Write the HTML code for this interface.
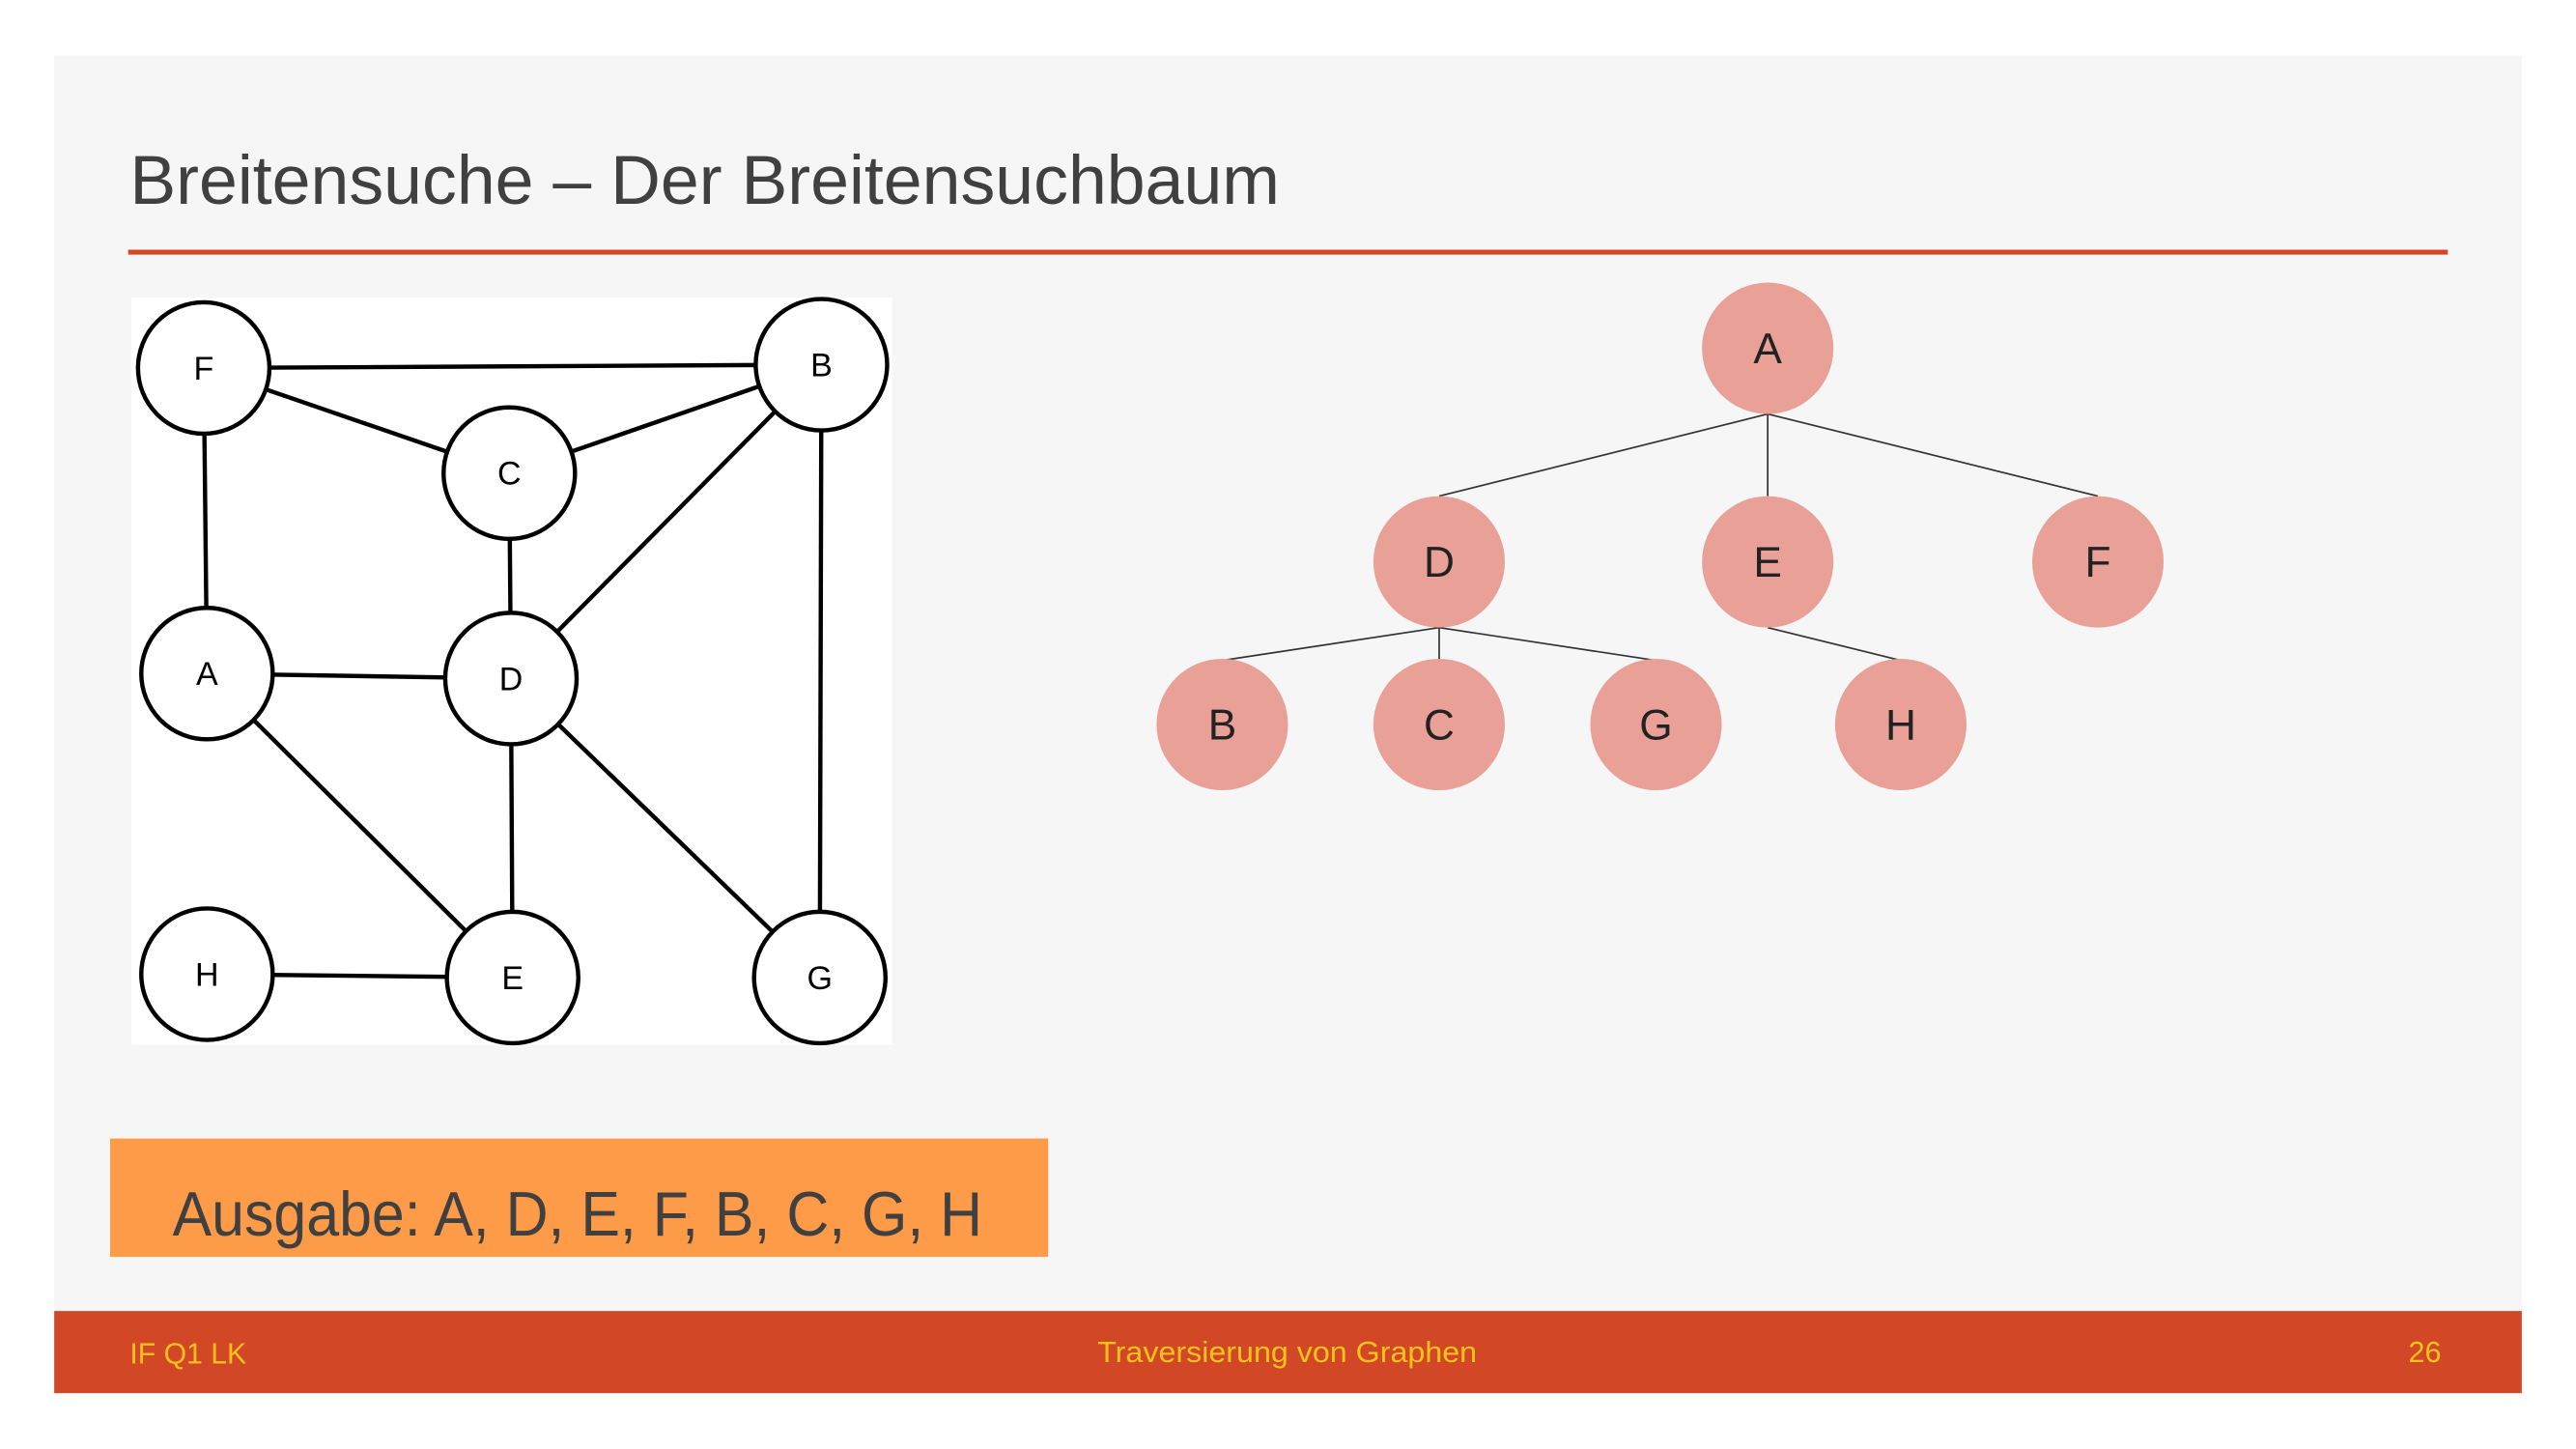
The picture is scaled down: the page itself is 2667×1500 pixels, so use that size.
<!DOCTYPE html>
<html><head><meta charset="utf-8"><style>html,body{margin:0;padding:0;background:#fff}svg{display:block}</style></head>
<body>
<svg width="2667" height="1500" viewBox="0 0 1568 882" preserveAspectRatio="none" xmlns="http://www.w3.org/2000/svg" font-family="Liberation Sans, sans-serif">
<rect x="0" y="0" width="1568" height="882" fill="#fff"/>
<rect x="33" y="34" width="1502" height="814" fill="#f6f6f6"/>
<text x="79" y="124" font-size="42" fill="#404040" textLength="700" lengthAdjust="spacingAndGlyphs">Breitensuche – Der Breitensuchbaum</text>
<rect x="78" y="152" width="1412" height="3" fill="#d24726"/>
<rect x="80" y="181" width="463" height="455" fill="#fff"/>
<g stroke="#000" stroke-width="2.6" fill="none">
<line x1="124" y1="224" x2="500" y2="222"/>
<line x1="124" y1="224" x2="310" y2="288"/>
<line x1="310" y1="288" x2="500" y2="222"/>
<line x1="124" y1="224" x2="126" y2="410"/>
<line x1="310" y1="288" x2="311" y2="413"/>
<line x1="311" y1="413" x2="500" y2="222"/>
<line x1="126" y1="410" x2="311" y2="413"/>
<line x1="126" y1="410" x2="312" y2="595"/>
<line x1="311" y1="413" x2="312" y2="595"/>
<line x1="311" y1="413" x2="499" y2="595"/>
<line x1="500" y1="222" x2="499" y2="595"/>
<line x1="126" y1="593" x2="312" y2="595"/>
</g>
<g stroke="#000" stroke-width="2.6" fill="#fff">
<circle cx="124" cy="224" r="40"/><circle cx="500" cy="222" r="40"/><circle cx="310" cy="288" r="40"/>
<circle cx="126" cy="410" r="40"/><circle cx="311" cy="413" r="40"/><circle cx="126" cy="593" r="40"/>
<circle cx="312" cy="595" r="40"/><circle cx="499" cy="595" r="40"/>
</g>
<g font-size="20" text-anchor="middle" fill="#000">
<text x="124" y="231">F</text><text x="500" y="229">B</text><text x="310" y="295">C</text>
<text x="126" y="417">A</text><text x="311" y="420">D</text><text x="126" y="600">H</text>
<text x="312" y="602">E</text><text x="499" y="602">G</text>
</g>
<g stroke="#333" stroke-width="1">
<line x1="1076" y1="252" x2="876" y2="302"/><line x1="1076" y1="252" x2="1076" y2="302"/><line x1="1076" y1="252" x2="1277" y2="302"/>
<line x1="876" y1="382" x2="744" y2="402"/><line x1="876" y1="382" x2="876" y2="402"/><line x1="876" y1="382" x2="1008" y2="402"/>
<line x1="1076" y1="382" x2="1157" y2="402"/>
</g>
<g fill="#e9a097">
<circle cx="1076" cy="212" r="40"/><circle cx="876" cy="342" r="40"/><circle cx="1076" cy="342" r="40"/><circle cx="1277" cy="342" r="40"/>
<circle cx="744" cy="441" r="40"/><circle cx="876" cy="441" r="40"/><circle cx="1008" cy="441" r="40"/><circle cx="1157" cy="441" r="40"/>
</g>
<g font-size="26" text-anchor="middle" fill="#222">
<text x="1076" y="221">A</text><text x="876" y="351">D</text><text x="1076" y="351">E</text><text x="1277" y="351">F</text>
<text x="744" y="450">B</text><text x="876" y="450">C</text><text x="1008" y="450">G</text><text x="1157" y="450">H</text>
</g>
<rect x="67" y="693" width="571" height="72" fill="#fd9b48"/>
<text x="105" y="752" font-size="38" fill="#404040" textLength="493" lengthAdjust="spacingAndGlyphs">Ausgabe: A, D, E, F, B, C, G, H</text>
<rect x="33" y="798" width="1502" height="50" fill="#d24726"/>
<g font-size="18" fill="#fbc21c">
<text x="79" y="830" textLength="71" lengthAdjust="spacingAndGlyphs">IF Q1 LK</text>
<text x="668" y="829" textLength="231" lengthAdjust="spacingAndGlyphs">Traversierung von Graphen</text>
<text x="1466" y="829" textLength="20" lengthAdjust="spacingAndGlyphs">26</text>
</g>
</svg>
</body></html>
